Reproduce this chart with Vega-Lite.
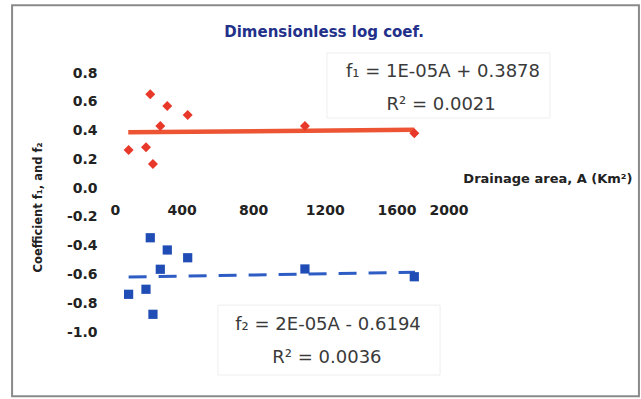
{
  "$schema": "https://vega.github.io/schema/vega-lite/v6.json",
  "width": 358,
  "height": 259,
  "autosize": {"type": "none"},
  "padding": {"left": 110, "top": 73, "right": 173, "bottom": 67},
  "background": "white",
  "config": {
    "view": {"stroke": null},
    "font": "DejaVu Sans",
    "axis": {"labelOverlap": false}
  },
  "datasets": {
    "obs": [
      {"A": 104, "f1": 0.265, "f2": -0.738},
      {"A": 201, "f1": 0.284, "f2": -0.703},
      {"A": 225, "f1": 0.652, "f2": -0.345},
      {"A": 240, "f1": 0.167, "f2": -0.877},
      {"A": 281, "f1": 0.432, "f2": -0.564},
      {"A": 320, "f1": 0.571, "f2": -0.430},
      {"A": 434, "f1": 0.508, "f2": -0.484},
      {"A": 1089, "f1": 0.432, "f2": -0.562},
      {"A": 1700, "f1": 0.381, "f2": -0.616}
    ],
    "trend1": [{"A": 102, "f": 0.3888}, {"A": 1700, "f": 0.4048}],
    "trend2": [{"A": 104, "f": -0.6173}, {"A": 1704, "f": -0.5853}],
    "one": [{}]
  },
  "layer": [
    {
      "data": {"name": "one"},
      "mark": {"type": "rect", "fill": "transparent", "stroke": "#8a8a8a", "strokeWidth": 2},
      "encoding": {
        "x": {"datum": -547, "type": "quantitative", "scale": {"domain": [0, 2000], "nice": false, "zero": false}},
        "x2": {"datum": 2955},
        "y": {"datum": 1.27, "type": "quantitative", "scale": {"domain": [-1, 0.8], "nice": false, "zero": false}},
        "y2": {"datum": -1.447}
      }
    },
    {
      "data": {"name": "one"},
      "mark": {"type": "rect", "fill": "transparent", "stroke": "#eeeeee", "strokeWidth": 1},
      "encoding": {
        "x": {"datum": 1212, "type": "quantitative"},
        "x2": {"datum": 2458},
        "y": {"datum": 0.939, "type": "quantitative"},
        "y2": {"datum": 0.487}
      }
    },
    {
      "data": {"name": "one"},
      "mark": {"type": "rect", "fill": "transparent", "stroke": "#eeeeee", "strokeWidth": 1},
      "encoding": {
        "x": {"datum": 603, "type": "quantitative"},
        "x2": {"datum": 1844},
        "y": {"datum": -0.813, "type": "quantitative"},
        "y2": {"datum": -1.299}
      }
    },
    {
      "data": {"name": "trend1"},
      "mark": {"type": "line", "color": "#ec5434", "strokeWidth": 4.5},
      "encoding": {
        "x": {"field": "A", "type": "quantitative"},
        "y": {"field": "f", "type": "quantitative"}
      }
    },
    {
      "data": {"name": "trend2"},
      "mark": {"type": "line", "color": "#2d5cc4", "strokeWidth": 3, "strokeDash": [18, 12]},
      "encoding": {
        "x": {"field": "A", "type": "quantitative"},
        "y": {"field": "f", "type": "quantitative"}
      }
    },
    {
      "data": {"name": "obs"},
      "mark": {"type": "point", "shape": "diamond", "filled": true, "color": "#e8382a", "size": 100, "opacity": 1},
      "encoding": {
        "x": {
          "field": "A", "type": "quantitative",
          "scale": {"domain": [0, 2000], "nice": false, "zero": false},
          "axis": {
            "title": "Drainage area, A (Km²)",
            "values": [0, 400, 800, 1200, 1600, 2000],
            "tickCount": 6,
            "format": "d",
            "grid": false, "domain": false, "ticks": false,
            "labelOverlap": false,
            "offset": -143.9,
            "labelPadding": 15,
            "labelFont": "DejaVu Sans", "labelFontSize": 14, "labelFontWeight": "bold", "labelColor": "#222222",
            "titleX": 522, "titleY": -10, "titleAlign": "right", "titleBaseline": "middle", "titleAnchor": null,
            "titleFont": "DejaVu Sans", "titleFontSize": 13, "titleFontWeight": "bold", "titleColor": "#222222"
          }
        },
        "y": {
          "field": "f1", "type": "quantitative",
          "scale": {"domain": [-1, 0.8], "nice": false, "zero": false},
          "axis": {
            "title": "Coefficient f₁, and f₂",
            "values": [-1, -0.8, -0.6, -0.4, -0.2, 0, 0.2, 0.4, 0.6, 0.8],
            "tickCount": 10,
            "format": ".1f",
            "labelExpr": "replace(datum.label, '\u2212', '-')",
            "grid": false, "domain": false, "ticks": false,
            "labelOverlap": false,
            "labelPadding": 13,
            "labelFont": "DejaVu Sans", "labelFontSize": 14, "labelFontWeight": "bold", "labelColor": "#222222",
            "titleX": -72, "titleY": 134, "titleAlign": "center", "titleBaseline": "middle", "titleAngle": -90,
            "titleFont": "DejaVu Sans", "titleFontSize": 11.5, "titleFontWeight": "bold", "titleColor": "#222222"
          }
        }
      }
    },
    {
      "data": {"name": "obs"},
      "mark": {"type": "point", "shape": "square", "filled": true, "color": "#1f4db5", "size": 85, "opacity": 1},
      "encoding": {
        "x": {"field": "A", "type": "quantitative"},
        "y": {"field": "f2", "type": "quantitative"}
      }
    },
    {
      "data": {"name": "one"},
      "mark": {"type": "text", "text": "Dimensionless log coef.", "font": "DejaVu Sans", "fontSize": 15, "fontWeight": "bold", "color": "#22308a", "align": "center", "baseline": "middle"},
      "encoding": {
        "x": {"datum": 1196, "type": "quantitative"},
        "y": {"datum": 1.085, "type": "quantitative"}
      }
    },
    {
      "data": {"name": "one"},
      "mark": {"type": "text", "text": "f₁ = 1E-05A + 0.3878", "font": "DejaVu Sans", "fontSize": 18, "color": "#3a3a3a", "align": "center", "baseline": "middle"},
      "encoding": {
        "x": {"datum": 1860, "type": "quantitative"},
        "y": {"datum": 0.807, "type": "quantitative"}
      }
    },
    {
      "data": {"name": "one"},
      "mark": {"type": "text", "text": "R² = 0.0021", "font": "DejaVu Sans", "fontSize": 18, "color": "#3a3a3a", "align": "center", "baseline": "middle"},
      "encoding": {
        "x": {"datum": 1850, "type": "quantitative"},
        "y": {"datum": 0.578, "type": "quantitative"}
      }
    },
    {
      "data": {"name": "one"},
      "mark": {"type": "text", "text": "f₂ = 2E-05A - 0.6194", "font": "DejaVu Sans", "fontSize": 18, "color": "#3a3a3a", "align": "center", "baseline": "middle"},
      "encoding": {
        "x": {"datum": 1218, "type": "quantitative"},
        "y": {"datum": -0.951, "type": "quantitative"}
      }
    },
    {
      "data": {"name": "one"},
      "mark": {"type": "text", "text": "R² = 0.0036", "font": "DejaVu Sans", "fontSize": 18, "color": "#3a3a3a", "align": "center", "baseline": "middle"},
      "encoding": {
        "x": {"datum": 1212, "type": "quantitative"},
        "y": {"datum": -1.181, "type": "quantitative"}
      }
    }
  ]
}
